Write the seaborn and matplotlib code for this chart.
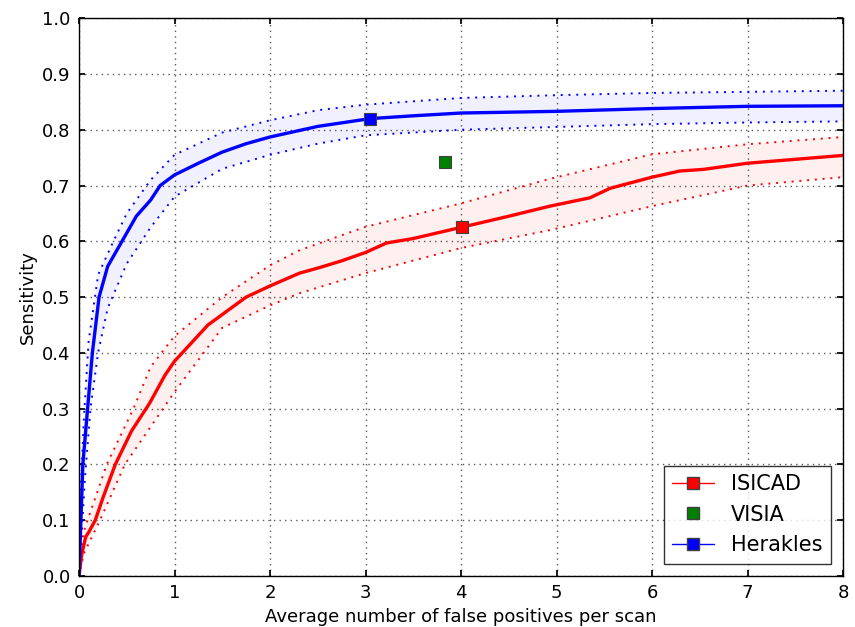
import numpy as np
import pandas as pd
import matplotlib
matplotlib.use('Agg')
import matplotlib.pyplot as plt
import seaborn as sns
from matplotlib.lines import Line2D

# ---- data ------------------------------------------------------------
herakles_x = [0, 0.02, 0.04, 0.09, 0.14, 0.21, 0.3, 0.4, 0.5, 0.6, 0.75, 0.85, 1.0,
              1.25, 1.5, 1.75, 2.0, 2.5, 3.05, 3.5, 4.0, 5.0, 6.0, 7.0, 8.0]
herakles_y = [0, 0.1, 0.2, 0.3, 0.4, 0.5, 0.555, 0.585, 0.615, 0.645, 0.674, 0.7, 0.719,
              0.74, 0.76, 0.775, 0.787, 0.806, 0.82, 0.825, 0.83, 0.833, 0.838, 0.842, 0.843]
herakles_up_x = [0, 0.02, 0.05, 0.1, 0.2, 0.36, 0.5, 0.75, 1.0, 1.5, 2.0, 2.5, 3.0, 4.0, 5.0, 6.0, 7.0, 8.0]
herakles_up_y = [0, 0.16, 0.28, 0.42, 0.54, 0.6, 0.65, 0.71, 0.755, 0.795, 0.817, 0.835, 0.845,
                 0.857, 0.862, 0.866, 0.868, 0.87]
herakles_lo_x = [0, 0.03, 0.06, 0.12, 0.2, 0.3, 0.5, 0.75, 1.0, 1.5, 2.0, 2.5, 3.0, 4.0, 5.0, 6.0, 7.0, 8.0]
herakles_lo_y = [0, 0.08, 0.17, 0.3, 0.4, 0.48, 0.56, 0.625, 0.68, 0.73, 0.755, 0.775, 0.79,
                 0.8, 0.805, 0.81, 0.813, 0.815]

isicad_x = [0, 0.03, 0.07, 0.1, 0.17, 0.25, 0.38, 0.55, 0.74, 0.9, 1.0, 1.35, 1.75, 2.0, 2.31,
            2.5, 2.75, 3.0, 3.22, 3.5, 4.0, 4.5, 4.93, 5.35, 5.56, 6.0, 6.29, 6.54, 7.0, 8.0]
isicad_y = [0, 0.04, 0.07, 0.078, 0.1, 0.14, 0.2, 0.26, 0.31, 0.36, 0.385, 0.45, 0.5, 0.52, 0.543,
            0.552, 0.565, 0.58, 0.597, 0.605, 0.625, 0.645, 0.663, 0.678, 0.695, 0.715, 0.726,
            0.729, 0.74, 0.754]
isicad_up_x = [0, 0.05, 0.09, 0.29, 0.57, 0.75, 1.0, 1.5, 2.0, 2.31, 3.0, 4.0, 4.93, 6.0, 7.0, 8.0]
isicad_up_y = [0, 0.08, 0.1, 0.2, 0.3, 0.375, 0.43, 0.5, 0.557, 0.584, 0.626, 0.668, 0.712,
               0.756, 0.774, 0.787]
isicad_lo_x = [0, 0.05, 0.22, 0.48, 0.88, 1.0, 1.5, 2.0, 2.31, 3.0, 4.0, 4.93, 6.0, 7.0, 8.0]
isicad_lo_y = [0, 0.04, 0.1, 0.2, 0.3, 0.33, 0.445, 0.485, 0.507, 0.543, 0.588, 0.62, 0.663,
               0.7, 0.715]

# operating points
systems = ['ISICAD', 'VISIA', 'Herakles']
points_x = [4.01, 3.83, 3.05]
points_y = [0.626, 0.742, 0.82]
colors = {'ISICAD': 'red', 'VISIA': 'green', 'Herakles': 'blue'}

# ---- style ------------------------------------------------------------
sns.set_theme(style='white', rc={
    'xtick.direction': 'in', 'ytick.direction': 'in',
    'xtick.top': True, 'ytick.right': True,
    'xtick.bottom': True, 'ytick.left': True,
    'xtick.major.size': 4, 'ytick.major.size': 4,
    'xtick.major.pad': 6, 'ytick.major.pad': 6,
    'axes.edgecolor': 'black', 'axes.linewidth': 1.0,
    'grid.color': '0.35', 'grid.linestyle': (0, (1, 3)), 'grid.linewidth': 1.0,
    'xtick.labelsize': 13, 'ytick.labelsize': 13, 'axes.labelsize': 13,
    'text.color': 'black', 'axes.labelcolor': 'black',
    'xtick.color': 'black', 'ytick.color': 'black',
})
plt.rcParams['font.family'] = ['DejaVu Sans']
plt.rcParams['font.sans-serif'] = ['DejaVu Sans']

fig = plt.figure(figsize=(8.55, 6.27), dpi=100)
ax = fig.add_axes([0.0924, 0.0813, 0.8936, 0.8897])

# confidence bands
def band(ux, uy, lx, ly, c):
    ax.fill(list(ux) + list(lx)[::-1], list(uy) + list(ly)[::-1],
            color=c, alpha=0.06, lw=0)
    ax.plot(ux, uy, color=c, lw=1.4, ls=(0, (1, 3)))
    ax.plot(lx, ly, color=c, lw=1.4, ls=(0, (1, 3)))

band(isicad_up_x, isicad_up_y, isicad_lo_x, isicad_lo_y, 'red')
band(herakles_up_x, herakles_up_y, herakles_lo_x, herakles_lo_y, 'blue')

sns.lineplot(x=isicad_x, y=isicad_y, color='red', lw=2.4, ax=ax, sort=False)
sns.lineplot(x=herakles_x, y=herakles_y, color='blue', lw=2.4, ax=ax, sort=False)

pts = pd.DataFrame({'system': systems, 'x': points_x, 'y': points_y})
for _, r in pts.iterrows():
    ax.plot(r['x'], r['y'], 's', ms=9, color=colors[r['system']],
            mec='#404040', mew=0.8, zorder=5)

ax.set_xlim(0, 8)
ax.set_ylim(0, 1.0)
ax.set_xticks(range(0, 9))
ax.set_yticks(np.arange(0, 1.01, 0.1))
ax.set_yticklabels([f'{v:.1f}' for v in np.arange(0, 1.01, 0.1)])
ax.grid(True)
ax.set_xlabel('Average number of false positives per scan')
ax.set_ylabel('Sensitivity')

handles = [
    Line2D([], [], color='red', lw=1, marker='s', ms=9, mfc='red', mec='#404040'),
    Line2D([], [], color='green', lw=0, marker='s', ms=9, mfc='green', mec='#404040'),
    Line2D([], [], color='blue', lw=1, marker='s', ms=9, mfc='blue', mec='#404040'),
]
leg = ax.legend(handles, systems, loc='lower right', fontsize=15, numpoints=1,
                fancybox=False, frameon=True, borderaxespad=0.6)
leg.get_frame().set_edgecolor('black')
leg.get_frame().set_linewidth(1.0)

fig.savefig('out.png', dpi=100)
